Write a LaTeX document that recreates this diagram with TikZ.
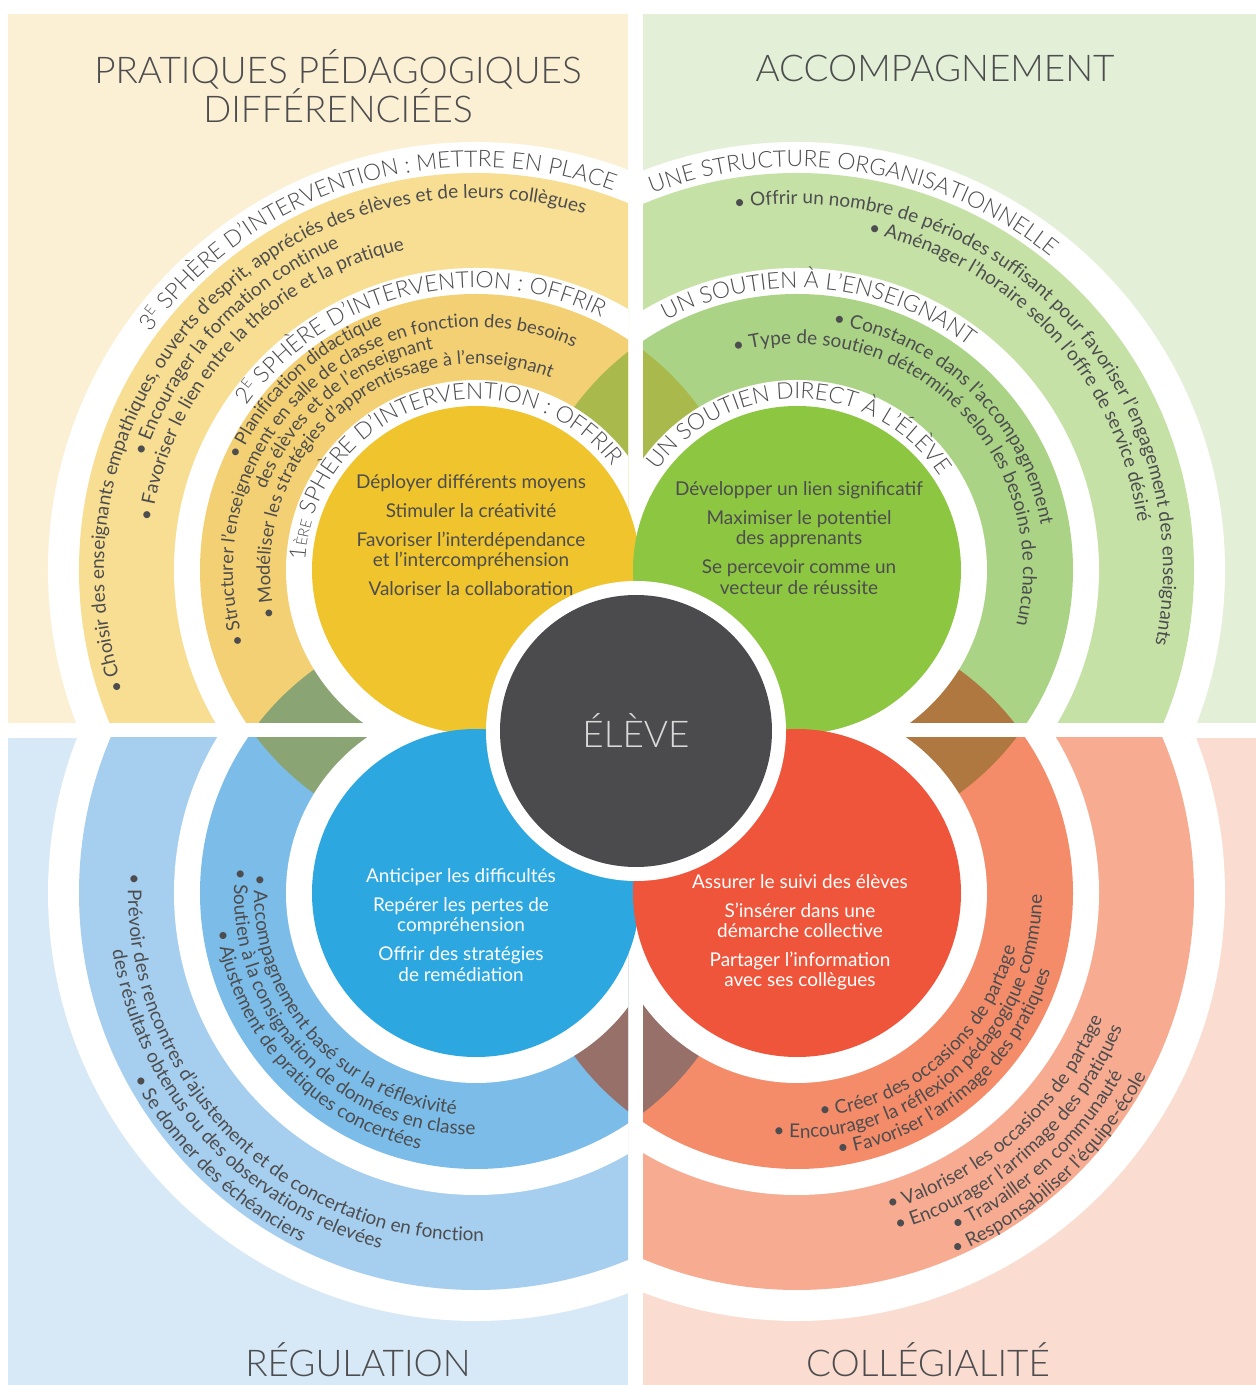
\documentclass[tikz,border=0pt]{standalone}
\usepackage{fontspec}
\setmainfont{Lato}
\newfontfamily\thinfont{Lato Light}
\usetikzlibrary{decorations.text}

\definecolor{ink}{HTML}{4D4D4F}
\definecolor{ybg}{HTML}{FCF0D4}
\definecolor{yout}{HTML}{F7DE92}
\definecolor{ymid}{HTML}{F3D073}
\definecolor{ydisc}{HTML}{EFC42C}
\definecolor{gbg}{HTML}{E3F0D7}
\definecolor{gout}{HTML}{C6E1A6}
\definecolor{gmid}{HTML}{ABD385}
\definecolor{gdisc}{HTML}{8DC641}
\definecolor{bbg}{HTML}{D7E8F6}
\definecolor{bout}{HTML}{A6CEEE}
\definecolor{bmid}{HTML}{7CBCE8}
\definecolor{bdisc}{HTML}{2CA7E0}
\definecolor{rbg}{HTML}{FADCD0}
\definecolor{rout}{HTML}{F7AC91}
\definecolor{rmid}{HTML}{F48C6A}
\definecolor{rdisc}{HTML}{EF553B}
\definecolor{yg}{HTML}{A9B94B}
\definecolor{yb}{HTML}{8AA474}
\definecolor{gr}{HTML}{B07841}
\definecolor{br}{HTML}{977069}
\definecolor{core}{HTML}{4B4B4D}

\newcommand\bandfont{\thinfont\fontsize{13}{13}\selectfont\color{ink}}
\newcommand\ringfont{\fontsize{10.8}{10.8}\selectfont\color{ink}}
\newcommand\smallring{\fontsize{10.4}{10.4}\selectfont\color{ink}}
\newcommand\supE{\raisebox{0.8ex}{\fontsize{8}{8}\selectfont E}}

% text on the upper side of a circle, read clockwise
\newcommand\toptext[4]{%
  \path[decorate,decoration={text along path,text align=center,text={#4}}]
    (#1) ++({#3+90}:#2) arc[start angle={#3+90},end angle={#3-90},radius=#2];}
% text on the lower side, read counter-clockwise
\newcommand\bottext[4]{%
  \path[decorate,decoration={text along path,text align=center,text={#4}}]
    (#1) ++({#3-90}:#2) arc[start angle={#3-90},end angle={#3+90},radius=#2];}

\begin{document}
\begin{tikzpicture}[x=0.02cm,y=0.02cm,
  title/.style={text=ink,font=\thinfont\fontsize{21}{21}\selectfont,align=center},
  disctext/.style={font=\fontsize{10.8}{11.5}\selectfont,align=center}]
\useasboundingbox (-636,-654) rectangle (620,731);
\coordinate (C) at (0,0);
\coordinate (Y) at (-160,161);
\coordinate (G) at (161,161);
\coordinate (B) at (-160,-162);
\coordinate (R) at (161,-162);

% yellow quarter
\begin{scope}
\clip (-628,8) rectangle (-8,717);
\fill[ybg] (-628,8) rectangle (-8,717);
\fill[white] (Y) circle[radius=428];
\fill[yout] (Y) circle[radius=397];
\fill[white] (Y) circle[radius=302];
\fill[ymid] (Y) circle[radius=276];
\begin{scope}
\clip (Y) circle[radius=276];
\fill[yg] (G) circle[radius=276];
\fill[yb] (B) circle[radius=276];
\end{scope}
\fill[white] (Y) circle[radius=190];
\end{scope}

% green quarter
\begin{scope}
\clip (7,8) rectangle (620,717);
\fill[gbg] (7,8) rectangle (620,717);
\fill[white] (G) circle[radius=428];
\fill[gout] (G) circle[radius=397];
\fill[white] (G) circle[radius=302];
\fill[gmid] (G) circle[radius=276];
\begin{scope}
\clip (G) circle[radius=276];
\fill[yg] (Y) circle[radius=276];
\fill[gr] (R) circle[radius=276];
\end{scope}
\fill[white] (G) circle[radius=190];
\end{scope}

% blue quarter
\begin{scope}
\clip (-628,-654) rectangle (-8,-7);
\fill[bbg] (-628,-654) rectangle (-8,-7);
\fill[white] (B) circle[radius=428];
\fill[bout] (B) circle[radius=397];
\fill[white] (B) circle[radius=302];
\fill[bmid] (B) circle[radius=276];
\begin{scope}
\clip (B) circle[radius=276];
\fill[yb] (Y) circle[radius=276];
\fill[br] (R) circle[radius=276];
\end{scope}
\fill[white] (B) circle[radius=190];
\end{scope}

% red quarter
\begin{scope}
\clip (7,-654) rectangle (620,-7);
\fill[rbg] (7,-654) rectangle (620,-7);
\fill[white] (R) circle[radius=428];
\fill[rout] (R) circle[radius=397];
\fill[white] (R) circle[radius=302];
\fill[rmid] (R) circle[radius=276];
\begin{scope}
\clip (R) circle[radius=276];
\fill[gr] (G) circle[radius=276];
\fill[br] (B) circle[radius=276];
\end{scope}
\fill[white] (R) circle[radius=190];
\end{scope}

% the four discs and the centre
\fill[ydisc] (Y) circle[radius=164];
\fill[bdisc] (B) circle[radius=164];
\fill[gdisc] (G) circle[radius=164];
\fill[rdisc] (R) circle[radius=164];
\fill[white] (C) circle[radius=150];
\fill[core] (C) circle[radius=136];
\node[text=white!85!black,font=\thinfont\fontsize{21}{21}\selectfont] (eleve) at (C) {ÉLÈVE};

% titles
\node[title] (tpratiques) at (-298,645) {PRATIQUES PÉDAGOGIQUES\\[-1.5pt]DIFFÉRENCIÉES};
\node[title] (taccomp) at (299,663) {ACCOMPAGNEMENT};
\node[title] (tregul) at (-278,-629) {RÉGULATION};
\node[title] (tcolleg) at (292,-629) {COLLÉGIALITÉ};

% disc texts
\node[disctext,text=ink] (ytext) at (-165,196)
  {Déployer différents moyens\\[5pt] Stimuler la créativité\\[5pt]
   Favoriser l’interdépendance\\et l’intercompréhension\\[5pt] Valoriser la collaboration};
\node[disctext,text=ink] (gtext) at (163,193)
  {Développer un lien significatif\\[5pt] Maximiser le potentiel\\des apprenants\\[5pt]
   Se percevoir comme un\\vecteur de réussite};
\node[disctext,text=white] (btext) at (-175,-194)
  {Anticiper les difficultés\\[5pt] Repérer les pertes de\\compréhension\\[5pt]
   Offrir des stratégies\\de remédiation};
\node[disctext,text=white] (rtext) at (164,-201)
  {Assurer le suivi des élèves\\[5pt] S’insérer dans une\\démarche collective\\[5pt]
   Partager l’information\\avec ses collègues};

% yellow arcs
\toptext{Y}{403}{107}{|\bandfont|3{\supE} SPHÈRE D’INTERVENTION : METTRE EN PLACE}
\toptext{Y}{372}{136}{|\ringfont|• Choisir des enseignants empathiques, ouverts d’esprit, appréciés des élèves et de leurs collègues}
\toptext{Y}{350}{137}{|\ringfont|• Encourager la formation continue}
\toptext{Y}{328}{137}{|\ringfont|• Favoriser le lien entre la théorie et la pratique}
\toptext{Y}{282}{104}{|\bandfont|2{\supE} SPHÈRE D’INTERVENTION : OFFRIR}
\toptext{Y}{262}{133}{|\smallring|• Planification didactique}
\toptext{Y}{243}{132}{|\smallring|• Structurer l’enseignement en salle de classe en fonction des besoins}
\toptext{Y}{225}{130}{|\smallring|des élèves et de l’enseignant}
\toptext{Y}{206}{131}{|\smallring|• Modéliser les stratégies d’apprentissage à l’enseignant}
\toptext{Y}{171}{107}{|\bandfont|1|\thinfont\fontsize{8.5}{8.5}\selectfont\color{ink}|ÈRE|\bandfont| SPHÈRE D’INTERVENTION : OFFRIR}

% green arcs
\toptext{G}{403}{81}{|\bandfont|UNE STRUCTURE ORGANISATIONNELLE}
\toptext{G}{366}{44}{|\ringfont|• Offrir un nombre de périodes suffisant pour favoriser l’engagement des enseignants}
\toptext{G}{344}{43}{|\ringfont|• Aménager l’horaire selon l’offre de service désiré}
\toptext{G}{282}{85}{|\bandfont|UN SOUTIEN À L’ENSEIGNANT}
\toptext{G}{248}{46}{|\ringfont|• Constance dans l’accompagnement}
\toptext{G}{226}{46}{|\ringfont|• Type de soutien déterminé selon les besoins de chacun}
\toptext{G}{171}{89}{|\bandfont|UN SOUTIEN DIRECT À L’ÉLÈVE}

% blue arcs
\bottext{B}{222}{220}{|\ringfont|• Accompagnement basé sur la réflexivité}
\bottext{B}{242}{222}{|\ringfont|• Soutien à la consignation de données en classe}
\bottext{B}{262}{223}{|\ringfont|• Ajustement de pratiques concertées}
\bottext{B}{348}{224}{|\ringfont|• Prévoir des rencontres d’ajustement et de concertation en fonction}
\bottext{B}{368}{222}{|\ringfont|des résultats obtenus ou des observations relevées}
\bottext{B}{390}{226}{|\ringfont|• Se donner des échéanciers}

% red arcs
\bottext{R}{225}{311}{|\ringfont|• Créer des occasions de partage}
\bottext{R}{245}{312}{|\ringfont|• Encourager la réflexion pédagogique commune}
\bottext{R}{265}{311}{|\ringfont|• Favoriser l’arrimage des pratiques}
\bottext{R}{330}{312}{|\ringfont|• Valoriser les occasions de partage}
\bottext{R}{352}{312}{|\ringfont|• Encourager l’arrimage des pratiques}
\bottext{R}{373}{313}{|\ringfont|• Travailler en communauté}
\bottext{R}{394}{313}{|\ringfont|• Responsabiliser l’équipe-école}
\end{tikzpicture}
\end{document}
